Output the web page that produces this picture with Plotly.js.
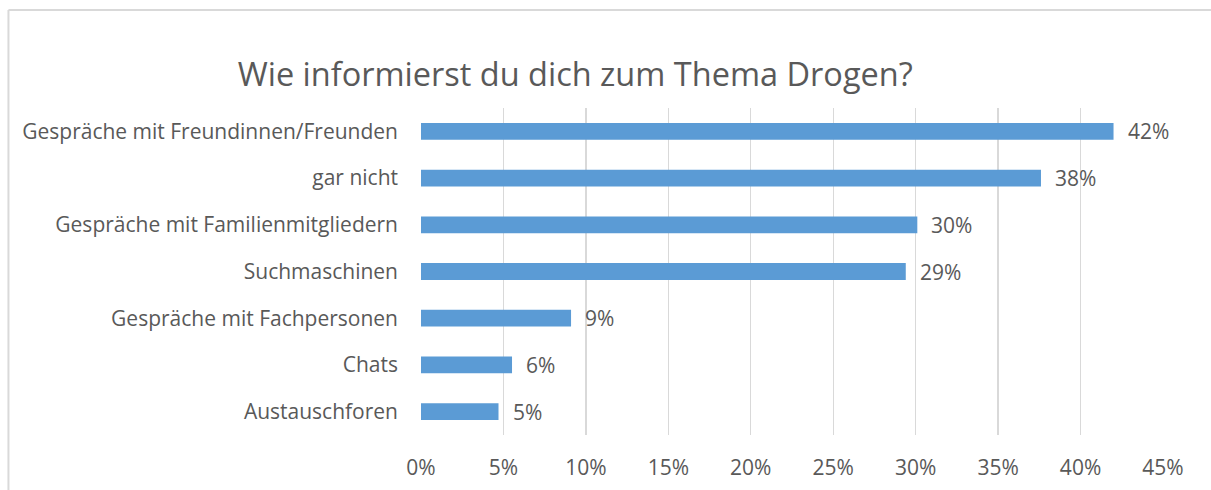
<!DOCTYPE html>
<html>
<head>
<meta charset="utf-8">
<script src="https://cdn.plot.ly/plotly-3.0.1.min.js"></script>
<style>
    html, body { margin: 0; padding: 0; background: #fff; overflow: hidden; }
    #chart { width: 1211px; height: 490px; }
</style>
</head>
<body>
<div id="chart"></div>
<script>
const categories = [
    'Gespräche mit Freundinnen/Freunden',
    'gar nicht',
    'Gespräche mit Familienmitgliedern',
    'Suchmaschinen',
    'Gespräche mit Fachpersonen',
    'Chats',
    'Austauschforen'
];
const shares = [0.42, 0.376, 0.301, 0.294, 0.091, 0.0552, 0.047];
const tickValues = [0, 0.05, 0.10, 0.15, 0.20, 0.25, 0.30, 0.35, 0.40, 0.45];

document.addEventListener('DOMContentLoaded', () => {
    const grey = '#595959';
    const fontFam = '"Open Sans", "DejaVu Sans", sans-serif';
    const fs = 21;

    const data = [{
        type: 'bar',
        orientation: 'h',
        x: shares,
        y: categories,
        marker: { color: '#5b9bd5' },
        hoverinfo: 'x+y'
    }];

    // value labels to the right of each bar
    const labels = categories.map((c, i) => ({
        x: shares[i], y: c, xref: 'x', yref: 'y',
        text: Math.round(shares[i] * 100) + '%',
        showarrow: false, xanchor: 'left', xshift: 12,
        font: { size: fs, color: grey, family: fontFam }
    }));

    // chart-area frame: only the top and left edges fall inside the picture
    const frame = { type: 'line', xref: 'paper', yref: 'paper', line: { color: '#d9d9d9', width: 2 } };
    const shapes = [
        Object.assign({}, frame, { x0: -0.556, x1: 1.2, y0: 1.3, y1: 1.3 }),
        Object.assign({}, frame, { x0: -0.556, x1: -0.556, y0: 1.3, y1: -0.3 })
    ];

    const layout = {
        width: 1211, height: 490,
        paper_bgcolor: '#fff', plot_bgcolor: 'rgba(0,0,0,0)',
        margin: { l: 421, r: 48, t: 108, b: 55 },
        font: { family: fontFam, color: grey, size: fs },
        title: {
            text: 'Wie informierst du dich zum Thema Drogen?',
            font: { size: 32.5, color: grey, family: fontFam },
            x: 0.475, xref: 'container', xanchor: 'center',
            y: 1 - 75 / 490, yref: 'container', yanchor: 'middle'
        },
        bargap: 0.64,
        showlegend: false,
        xaxis: {
            range: [0, 0.45],
            tickvals: tickValues,
            tickformat: '.0%',
            showgrid: true, gridcolor: '#d9d9d9', gridwidth: 1.3,
            zeroline: false, showline: false,
            ticks: '', ticklabelstandoff: 18,
            tickfont: { size: fs, color: grey }
        },
        yaxis: {
            categoryorder: 'array', categoryarray: categories,
            autorange: 'reversed',
            showgrid: false, zeroline: false, showline: false,
            ticks: '', ticklabelstandoff: 22,
            tickfont: { size: fs, color: grey }
        },
        shapes: shapes,
        annotations: labels
    };

    Plotly.newPlot('chart', data, layout, { displayModeBar: false, staticPlot: true });
});
</script>
</body>
</html>
